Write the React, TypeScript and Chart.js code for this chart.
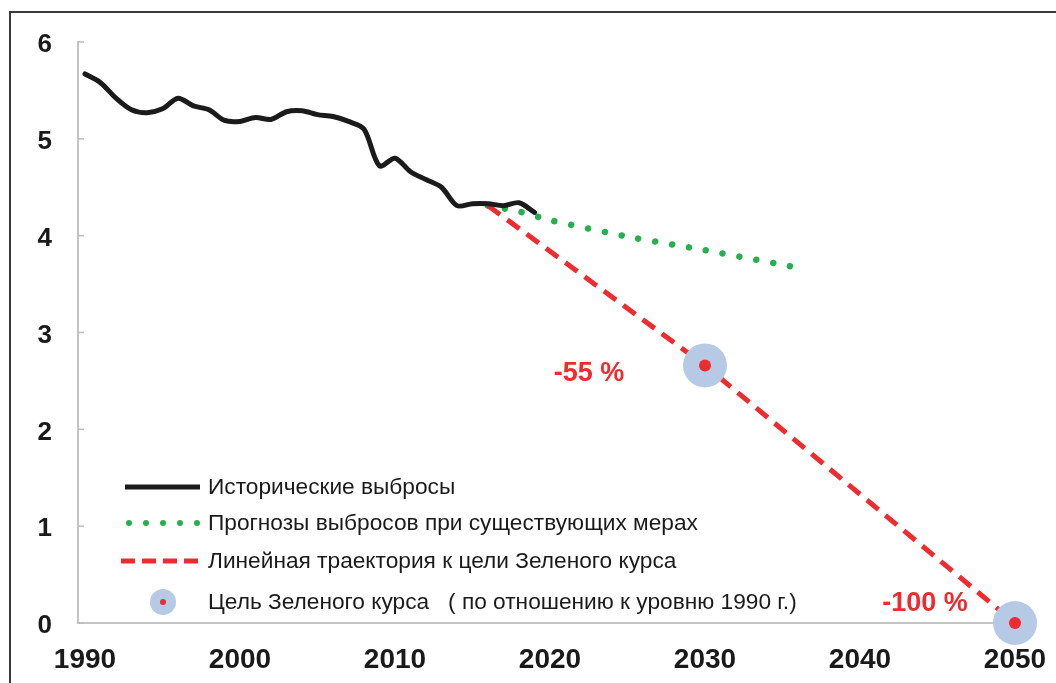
import React, { useEffect, useRef } from "react";
import { Chart, registerables } from "chart.js";

Chart.register(...registerables);

// ---- data ----
const historyYears = [
  1990, 1991, 1992, 1993, 1994, 1995, 1996, 1997, 1998, 1999,
  2000, 2001, 2002, 2003, 2004, 2005, 2006, 2007, 2008, 2009,
  2010, 2011, 2012, 2013, 2014, 2015, 2016, 2017, 2018, 2019,
];
const historyValues = [
  5.67, 5.58, 5.42, 5.30, 5.27, 5.31, 5.42, 5.34, 5.30, 5.19,
  5.18, 5.22, 5.20, 5.28, 5.29, 5.25, 5.23, 5.18, 5.10, 4.72,
  4.80, 4.66, 4.58, 4.50, 4.31, 4.33, 4.33, 4.31, 4.34, 4.24,
];
const projectionYears = [2016, 2018, 2020, 2025, 2030, 2036];
const projectionValues = [4.31, 4.25, 4.16, 3.99, 3.85, 3.67];
const pathYears = [2016, 2030, 2050];
const pathValues = [4.31, 2.66, 0];
const targetYears = [2030, 2050];
const targetValues = [2.66, 0];
const targetLabels = ["-55 %", "-100 %"];
const xTickValues = [1990, 2000, 2010, 2020, 2030, 2040, 2050];
const yTickValues = [0, 1, 2, 3, 4, 5, 6];
const legendLabels = [
  "Исторические выбросы",
  "Прогнозы выбросов при существующих мерах",
  "Линейная траектория к цели Зеленого курса",
  "Цель Зеленого курса   ( по отношению к уровню 1990 г.)",
];

const BLACK = "#1b1b1b";
const GREEN = "#25b050";
const RED = "#ee2b2e";
const BLUE = "#b6c9e5";
const FONT = "'Liberation Sans', Arial, sans-serif";

const overlayPlugin = {
  id: "overlay",
  afterDatasetsDraw(chart: any) {
    const ctx = chart.ctx;
    const xs = chart.scales.x;
    const ys = chart.scales.y;
    ctx.save();
    // inward tick marks on y axis
    ctx.strokeStyle = "#bdbdbd";
    ctx.lineWidth = 1.5;
    yTickValues.forEach((v) => {
      const y = ys.getPixelForValue(v);
      ctx.beginPath();
      ctx.moveTo(xs.left, y);
      ctx.lineTo(xs.left + 6, y);
      ctx.stroke();
    });
    // target annotations
    ctx.fillStyle = RED;
    ctx.font = "bold 27px " + FONT;
    ctx.textAlign = "center";
    ctx.textBaseline = "middle";
    const offs = [
      [-116, 8],
      [-90, -19],
    ];
    targetYears.forEach((yr, i) => {
      const px = xs.getPixelForValue(yr);
      const py = ys.getPixelForValue(targetValues[i]);
      ctx.fillText(targetLabels[i], px + offs[i][0], py + offs[i][1]);
    });
    // legend
    const lx0 = 125;
    const lx1 = 200;
    const tx = 208;
    const rows = [487, 523, 561, 602];
    ctx.lineCap = "butt";
    // 1 black
    ctx.strokeStyle = BLACK;
    ctx.lineWidth = 5;
    ctx.beginPath();
    ctx.moveTo(lx0, rows[0]);
    ctx.lineTo(lx1, rows[0]);
    ctx.stroke();
    // 2 green dots
    ctx.fillStyle = GREEN;
    for (let i = 0; i < 5; i++) {
      ctx.beginPath();
      ctx.arc(129 + i * 17, rows[1], 3, 0, Math.PI * 2);
      ctx.fill();
    }
    // 3 red dashes
    ctx.strokeStyle = RED;
    ctx.lineWidth = 5;
    ctx.setLineDash([14, 7]);
    ctx.beginPath();
    ctx.moveTo(lx0 - 4, rows[2]);
    ctx.lineTo(lx1 + 1, rows[2]);
    ctx.stroke();
    ctx.setLineDash([]);
    // 4 circle
    ctx.fillStyle = BLUE;
    ctx.beginPath();
    ctx.arc(163, rows[3], 13, 0, Math.PI * 2);
    ctx.fill();
    ctx.fillStyle = RED;
    ctx.beginPath();
    ctx.arc(163, rows[3], 3, 0, Math.PI * 2);
    ctx.fill();
    // texts
    ctx.fillStyle = "#1a1a1a";
    ctx.font = "22.7px " + FONT;
    ctx.textAlign = "left";
    ctx.textBaseline = "middle";
    legendLabels.forEach((t, i) => {
      ctx.fillText(t, tx, rows[i] + 1);
    });
    ctx.restore();
  },
};

export default function App() {
  const canvasRef = useRef<HTMLCanvasElement | null>(null);

  useEffect(() => {
    document.body.style.margin = "0";
    const canvas = canvasRef.current;
    if (!canvas) return;
    const chart = new Chart(canvas, {
      type: "line",
      data: {
        datasets: [
          {
            label: "hist",
            data: historyYears.map((x, i) => ({ x, y: historyValues[i] })),
            borderColor: BLACK,
            borderWidth: 5,
            pointRadius: 0,
            tension: 0.3,
            borderJoinStyle: "round",
            borderCapStyle: "round",
          },
          {
            label: "target-dot",
            data: targetYears.map((x, i) => ({ x, y: targetValues[i] })),
            showLine: false,
            pointRadius: 6,
            pointBackgroundColor: RED,
            pointBorderWidth: 0,
          },
          {
            label: "target",
            data: targetYears.map((x, i) => ({ x, y: targetValues[i] })),
            showLine: false,
            pointRadius: 22,
            pointBackgroundColor: BLUE,
            pointBorderWidth: 0,
          },
          {
            label: "path",
            data: pathYears.map((x, i) => ({ x, y: pathValues[i] })),
            borderColor: RED,
            borderWidth: 5,
            borderDash: [15, 9],
            pointRadius: 0,
            tension: 0,
          },
          {
            label: "proj",
            data: projectionYears.map((x, i) => ({ x, y: projectionValues[i] })),
            borderColor: GREEN,
            borderWidth: 6.5,
            borderDash: [0.01, 17.1],
            borderCapStyle: "round",
            pointRadius: 0,
            tension: 0.2,
          },
        ],
      },
      options: {
        animation: false,
        responsive: false,
        clip: false,
        layout: { padding: { top: 42, right: 41, left: 0, bottom: 0 } },
        plugins: { legend: { display: false }, tooltip: { enabled: false } },
        scales: {
          x: {
            type: "linear",
            min: 1989.548,
            max: 2050,
            afterBuildTicks: (s: any) => {
              s.ticks = xTickValues.map((v) => ({ value: v }));
            },
            afterFit: (s: any) => {
              s.height = 60;
              s.paddingRight = 0;
              s.paddingLeft = 0;
            },
            grid: { display: false, drawTicks: false },
            border: { display: true, color: "#c4c4c4", width: 2 },
            ticks: {
              padding: 20,
              color: "#1a1a1a",
              font: { family: FONT, size: 28, weight: "bold" },
              maxRotation: 0,
              autoSkip: false,
              callback: (v: any) => String(v),
            },
          },
          y: {
            min: 0,
            max: 6,
            afterBuildTicks: (s: any) => {
              s.ticks = yTickValues.map((v) => ({ value: v }));
            },
            afterFit: (s: any) => {
              s.width = 78;
            },
            grid: { display: false, drawTicks: false },
            border: { display: true, color: "#c4c4c4", width: 2 },
            ticks: {
              padding: 26,
              labelOffset: 3,
              color: "#1a1a1a",
              font: { family: FONT, size: 26, weight: "bold" },
            },
          },
        },
      } as any,
      plugins: [overlayPlugin],
    });
    return () => chart.destroy();
  }, []);

  return (
    <div style={{ position: "relative", width: 1056, height: 683, overflow: "hidden", background: "#fff" }}>
      <canvas ref={canvasRef} width={1056} height={683} style={{ display: "block" }} />
      <div
        style={{
          position: "absolute",
          left: 9,
          top: 11,
          width: 1100,
          height: 700,
          borderLeft: "2px solid #3a3a3a",
          borderTop: "2px solid #3a3a3a",
          pointerEvents: "none",
        }}
      />
    </div>
  );
}
